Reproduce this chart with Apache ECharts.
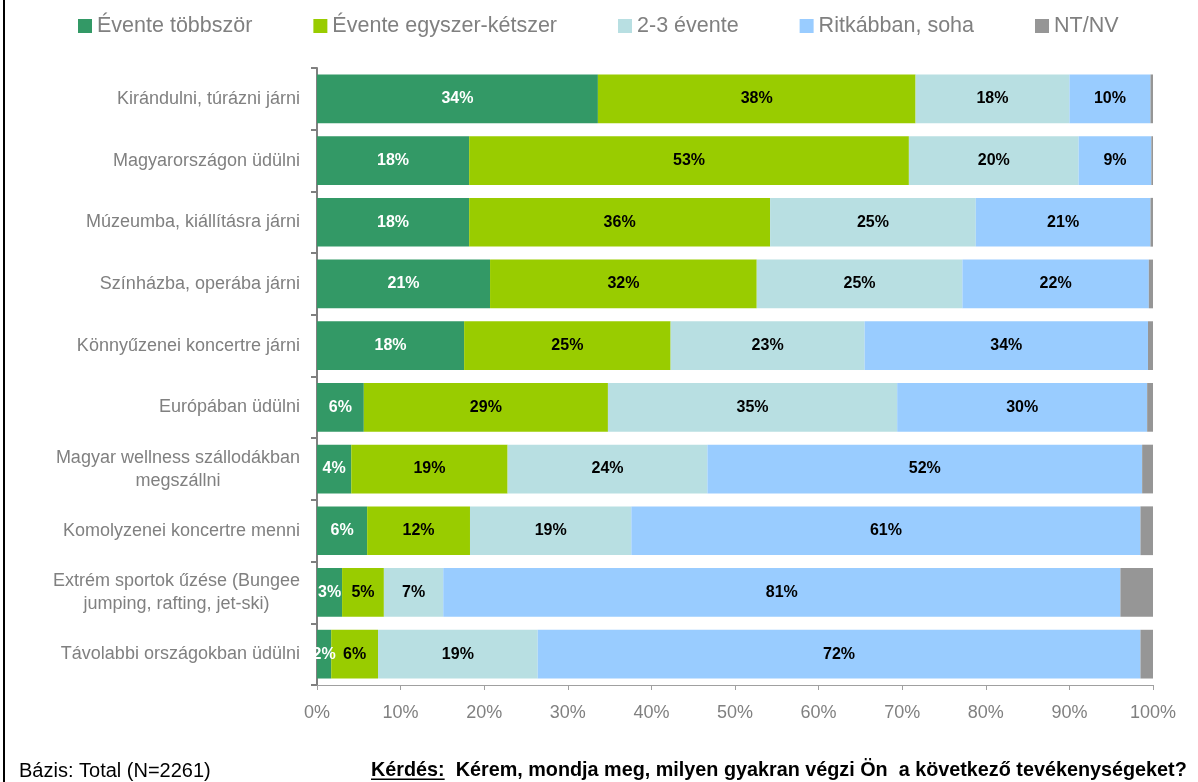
<!DOCTYPE html>
<html>
<head>
<meta charset="utf-8">
<script src="https://cdn.jsdelivr.net/npm/echarts@6/dist/echarts.min.js"></script>
<style>
  html, body { margin: 0; padding: 0; background: #fff; }
  #chart { width: 1198px; height: 782px; }
</style>
</head>
<body>
<div id="chart"></div>
<script>
// Activities (top to bottom)
const categories = [
  'Kirándulni, túrázni járni',
  'Magyarországon üdülni',
  'Múzeumba, kiállításra járni',
  'Színházba, operába járni',
  'Könnyűzenei koncertre járni',
  'Európában üdülni',
  'Magyar wellness szállodákban\nmegszállni',
  'Komolyzenei koncertre menni',
  'Extrém sportok űzése (Bungee\njumping, rafting, jet-ski)',
  'Távolabbi országokban üdülni'
];

const seriesNames = ['Évente többször', 'Évente egyszer-kétszer', '2-3 évente', 'Ritkábban, soha', 'NT/NV'];

// Shares in percent
const eventeTobbszor       = [33.6, 18.2, 18.2, 20.7, 17.6,  5.6,  4.1,  6.0,  3.0,  1.7];
const eventeEgyszerKetszer = [38.0, 52.6, 36.0, 31.9, 24.7, 29.2, 18.7, 12.3,  5.0,  5.6];
const kettoHaromEvente     = [18.4, 20.3, 24.6, 24.6, 23.2, 34.6, 23.9, 19.3,  7.1, 19.1];
const ritkabbanSoha        = [ 9.7,  8.7, 20.9, 22.3, 33.9, 29.9, 52.0, 60.9, 81.0, 72.1];
const ntNv                 = [ 0.3,  0.2,  0.3,  0.5,  0.6,  0.7,  1.3,  1.5,  3.9,  1.5];

// Percentage axis ticks
const xTickMin = 0;
const xTickMax = 100;
const xTickStep = 10;

const baseText = 'Bázis: Total (N=2261)';
const questionLabel = 'Kérdés:';
const questionText = 'Kérem, mondja meg, milyen gyakran végzi Ön  a következő tevékenységeket?';

const FONT = '"Liberation Sans", Arial, sans-serif';
const colors = ['#339966', '#99CC00', '#B8DFE2', '#99CCFF', '#969696'];
const seriesValues = [eventeTobbszor, eventeEgyszerKetszer, kettoHaromEvente, ritkabbanSoha, ntNv];

const chart = echarts.init(document.getElementById('chart'), null, { renderer: 'canvas' });

// width of the underlined "Kérdés:" word
const questionFont = 'bold 19.8px ' + FONT;
const measureCtx = document.createElement('canvas').getContext('2d');
measureCtx.font = questionFont;
const qLabelWidth = measureCtx.measureText(questionLabel).width;
const qLeft = 371;

const series = seriesNames.map((name, i) => ({
  type: 'bar',
  name: name,
  stack: 'total',
  data: seriesValues[i],
  barCategoryGap: '21%',
  itemStyle: { color: colors[i] },
  emphasis: { disabled: true },
  label: {
    show: i < 4,
    position: 'inside',
    formatter: p => Math.round(p.value) + '%',
    color: i === 0 ? '#ffffff' : '#000000',
    fontWeight: 'bold',
    fontSize: 16,
    fontFamily: FONT
  }
}));

chart.setOption({
  animation: false,
  backgroundColor: '#ffffff',
  legend: {
    data: seriesNames,
    left: 78,
    top: 15,
    padding: 0,
    icon: 'rect',
    itemWidth: 14,
    itemHeight: 14,
    itemGap: 61,
    selectedMode: false,
    textStyle: { fontSize: 21.5, color: '#808080', fontFamily: FONT }
  },
  grid: { left: 317, right: 45, top: 68, bottom: 97, containLabel: false },
  xAxis: {
    type: 'value',
    min: xTickMin,
    max: xTickMax,
    interval: xTickStep,
    axisLine: { show: true, lineStyle: { color: '#a0a0a0', width: 1 } },
    axisTick: { show: true, length: 5, lineStyle: { color: '#a0a0a0', width: 1 } },
    splitLine: { show: false },
    axisLabel: {
      formatter: '{value}%',
      color: '#808080',
      fontSize: 18,
      fontFamily: FONT,
      margin: 19
    }
  },
  yAxis: {
    type: 'category',
    data: categories,
    inverse: true,
    axisLine: { show: true, lineStyle: { color: '#808080', width: 2 } },
    axisTick: { show: true, length: 6, lineStyle: { color: '#808080', width: 2 } },
    axisLabel: {
      margin: 17,
      formatter: v => v.split('\n').map(s => '{c|' + s + '}').join('\n'),
      rich: {
        c: { align: 'center', fontSize: 18, color: '#808080', fontFamily: FONT, lineHeight: 23 }
      }
    }
  },
  series: series,
  graphic: [
    { type: 'rect', silent: true, shape: { x: 3, y: 0, width: 2, height: 782 }, style: { fill: '#000000' } },
    {
      type: 'text', silent: true, x: 19, y: 771,
      style: { text: baseText, font: '20px ' + FONT, fill: '#000000', textAlign: 'left', textVerticalAlign: 'middle' }
    },
    {
      type: 'text', silent: true, x: qLeft, y: 771,
      style: { text: questionLabel + '  ' + questionText, font: questionFont, fill: '#000000', textAlign: 'left', textVerticalAlign: 'middle' }
    },
    { type: 'rect', silent: true, shape: { x: qLeft, y: 778.5, width: qLabelWidth, height: 1.6 }, style: { fill: '#000000' } }
  ]
});
</script>
</body>
</html>
